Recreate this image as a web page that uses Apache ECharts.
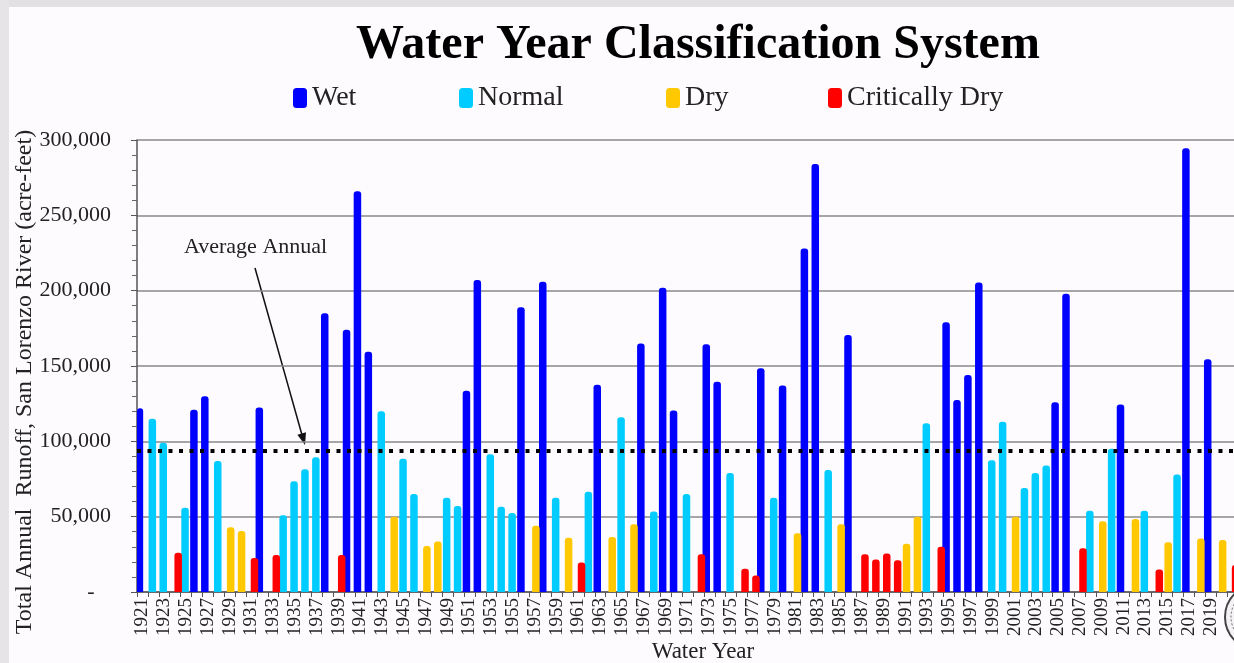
<!DOCTYPE html>
<html>
<head>
<meta charset="utf-8">
<script src="https://cdn.jsdelivr.net/npm/echarts@6/dist/echarts.min.js"></script>
<style>
  html, body { margin: 0; padding: 0; background: #fdfbfd; }
  #chart { width: 1234px; height: 663px; }
</style>
</head>
<body>
<div id="chart"></div>
<script>
// water years 1921 - 2021
var years = [];
for (var y = 1921; y <= 2021; y++) years.push(String(y));

// total annual runoff, acre-feet
var runoff = [
  122000, 115000, 99000, 26000, 56000, 121000, 130000, 87000, 43000, 40500,
  22500, 122500, 24500, 51000, 73500, 81500, 89500, 185000, 24500, 174000,
  266000, 159500, 120000, 50000, 88500, 65000, 30500, 33500, 62500, 57000,
  133500, 207000, 91500, 56500, 52500, 189000, 44000, 206000, 62500, 36000,
  19500, 66500, 137500, 36500, 116000, 45000, 165000, 53500, 202000, 120500,
  65000, 25000, 164500, 139500, 79000, 15500, 11000, 148500, 62500, 137000,
  39000, 228000, 284000, 81000, 45000, 170500, 25000, 21500, 25500, 21000,
  32000, 50000, 112000, 30000, 179000, 127500, 144000, 205500, 87500, 113000,
  50000, 69000, 79000, 84000, 126000, 198000, 29000, 54000, 47000, 95000,
  124500, 48500, 54000, 15000, 33000, 78000, 294500, 35500, 154500, 34500,
  18000
];

// W = Wet, N = Normal, D = Dry, C = Critically Dry
var yearClass = [
  'W','N','N','C','N','W','W','N','D','D',
  'C','W','C','N','N','N','N','W','C','W',
  'W','W','N','D','N','N','D','D','N','N',
  'W','W','N','N','N','W','D','W','N','D',
  'C','N','W','D','N','D','W','N','W','W',
  'N','C','W','W','N','C','C','W','N','W',
  'D','W','W','N','D','W','C','C','C','C',
  'D','D','N','C','W','W','W','W','N','N',
  'D','N','N','N','W','W','C','N','D','N',
  'W','D','N','C','D','N','W','D','W','D',
  'C'
];

var classCodes = ['W', 'N', 'D', 'C'];
var classNames = ['Wet', 'Normal', 'Dry', 'Critically Dry'];
var classColors = ['#0000ff', '#00ccff', '#ffc800', '#ff0000'];

var avgRunoff = 93500;
var yTicks = [0, 50000, 100000, 150000, 200000, 250000, 300000];

var font = 'Liberation Serif';
var legendLeft = [293, 459, 666, 828];

var myChart = echarts.init(document.getElementById('chart'));

var series = classCodes.map(function (code, i) {
  var s = {
    name: classNames[i],
    type: 'bar',
    barWidth: 7.5,
    barGap: '-73%',
    itemStyle: { color: classColors[i], borderRadius: [3, 3, 0, 0] },
    data: runoff.map(function (v, j) { return yearClass[j] === code ? v : '-'; })
  };
  if (i === 0) {
    s.markLine = {
      silent: true,
      symbol: ['none', 'none'],
      label: { show: false },
      lineStyle: { color: '#000', width: 4, type: [4, 6.5] },
      data: [{ yAxis: avgRunoff }]
    };
  }
  return s;
});

var legends = classNames.map(function (name, i) {
  return {
    data: [name],
    left: legendLeft[i],
    top: 84,
    padding: 0,
    icon: 'roundRect',
    itemWidth: 14,
    itemHeight: 20,
    selectedMode: false,
    textStyle: { fontFamily: font, fontSize: 28, color: '#222' }
  };
});

var option = {
  animation: false,
  backgroundColor: '#fdfbfd',
  title: {
    text: 'Water Year Classification System',
    left: 356,
    top: 22,
    padding: 0,
    textStyle: { fontFamily: font, fontSize: 48, fontWeight: 'bold', color: '#000' }
  },
  legend: legends,
  grid: { left: 137, top: 140, width: 1101, height: 452, outerBoundsMode: 'none' },
  xAxis: {
    type: 'category',
    data: years,
    axisLine: { lineStyle: { color: '#555', width: 1.5 } },
    axisTick: { show: true, interval: 0, length: 5, lineStyle: { color: '#555' } },
    axisLabel: {
      // every other year; the last one sits under the seal in the picture
      interval: function (idx) { return idx % 2 === 0 && idx < years.length - 1; },
      rotate: 90,
      margin: 6,
      fontFamily: font,
      fontSize: 19,
      color: '#222'
    }
  },
  yAxis: {
    type: 'value',
    min: yTicks[0],
    max: yTicks[yTicks.length - 1],
    interval: yTicks[1] - yTicks[0],
    axisLine: { show: true, lineStyle: { color: '#555', width: 1.5 } },
    axisTick: { show: true, length: 6, lineStyle: { color: '#555' } },
    minorTick: { show: true, splitNumber: 5, length: 5, lineStyle: { color: '#666' } },
    splitLine: { lineStyle: { color: '#8a8a8a', width: 1.5 } },
    axisLabel: {
      margin: 26,
      fontFamily: font,
      fontSize: 22,
      color: '#222',
      formatter: function (v) {
        return v === 0 ? '-   ' : v.toLocaleString('en-US');
      }
    }
  },
  series: series,
  graphic: [
    { type: 'rect', left: 0, top: 0, shape: { width: 1234, height: 7 }, style: { fill: '#e2e0e2' }, silent: true },
    { type: 'rect', left: 0, top: 0, shape: { width: 9, height: 663 }, style: { fill: '#e6e4e6' }, silent: true },
    {
      type: 'text',
      x: 25, y: 382,
      rotation: Math.PI / 2,
      style: {
        text: 'Total Annual  Runoff, San Lorenzo River (acre-feet)',
        fontFamily: font, fontSize: 24, fill: '#222',
        align: 'center', verticalAlign: 'middle'
      }
    },
    {
      type: 'text',
      x: 703, y: 652,
      style: {
        text: 'Water Year',
        fontFamily: font, fontSize: 23, fill: '#222',
        align: 'center', verticalAlign: 'middle'
      }
    },
    {
      type: 'text',
      x: 184, y: 247,
      style: {
        text: 'Average Annual',
        fontFamily: font, fontSize: 22, fill: '#222',
        align: 'left', verticalAlign: 'middle'
      }
    },
    {
      type: 'line',
      shape: { x1: 255, y1: 268, x2: 302, y2: 435 },
      style: { stroke: '#111', lineWidth: 1.5 }
    },
    {
      type: 'polygon',
      shape: { points: [[305, 445], [297.4, 434.7], [306, 432.3]] },
      style: { fill: '#111' }
    },
    // seal at the lower right corner
    {
      type: 'circle',
      shape: { cx: 1258, cy: 617, r: 33 },
      style: { fill: '#f4f2f4', stroke: '#444', lineWidth: 2 },
      z: 10
    },
    {
      type: 'circle',
      shape: { cx: 1258, cy: 617, r: 27 },
      style: { fill: 'none', stroke: '#666', lineWidth: 1, lineDash: [2, 2] },
      z: 10
    }
  ]
};

myChart.setOption(option);
</script>
</body>
</html>
